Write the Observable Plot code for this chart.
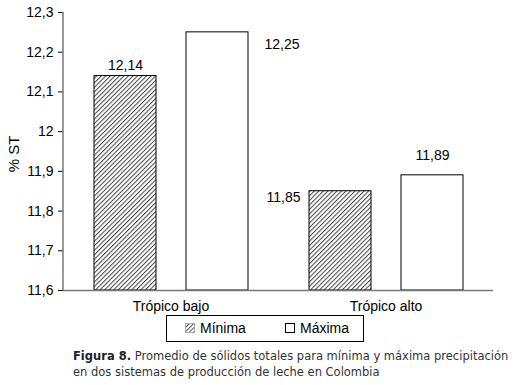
<!DOCTYPE html>
<html>
<head>
<meta charset="utf-8">
<script src="https://cdn.jsdelivr.net/npm/d3@7"></script>
<script src="https://cdn.jsdelivr.net/npm/@observablehq/plot@0.6"></script>
<style>
  html, body { margin: 0; padding: 0; background: #fff; }
  #wrap { position: relative; width: 517px; height: 385px; }
  #legend { position: absolute; left: 166px; top: 315px; width: 196px; height: 25px;
    border: 1px solid #000; font: 14px "Liberation Sans", Arial, sans-serif; color: #000; }
  #legend .item { position: absolute; top: 4px; display: flex; align-items: center; line-height: 16px; }
  #legend svg { margin-right: 5px; }
  #caption { position: absolute; left: 73px; top: 348px; white-space: nowrap;
    font: 11.5px "DejaVu Sans", Verdana, sans-serif; color: #333; line-height: 16px; }
  #caption b { color: #222; }
</style>
</head>
<body>
<div id="wrap">
  <div id="chart"></div>
  <div id="legend"></div>
  <div id="caption"><b>Figura 8.</b> Promedio de sólidos totales para mínima y máxima precipitación<br>en dos sistemas de producción de leche en Colombia</div>
</div>
<script>
const groups = ["Trópico bajo", "Trópico alto"];
const series = ["Mínima", "Máxima"];
const minima = [12.14, 11.85];
const maxima = [12.25, 11.89];
const yTicks = [11.6, 11.7, 11.8, 11.9, 12.0, 12.1, 12.2, 12.3];

const data = [];
groups.forEach((g, i) => {
  data.push({group: g, series: series[0], value: minima[i]});
  data.push({group: g, series: series[1], value: maxima[i]});
});

const fmt = d => String(+(+d).toFixed(2)).replace(".", ",");
const yMin = yTicks[0], yMax = yTicks[yTicks.length - 1];
const pick = (g, s) => d => d.group === g && d.series === s;

const plot = Plot.plot({
  width: 517,
  height: 314,
  marginLeft: 63,
  marginRight: 24,
  marginTop: 12,
  marginBottom: 24,
  style: {fontFamily: "'Liberation Sans', Arial, sans-serif", fontSize: "14px", color: "#000", background: "#fff"},
  fx: {domain: groups, padding: 0, axis: "bottom", label: null, tickSize: 0, tickPadding: 11},
  x: {domain: series, padding: 0.33, axis: null},
  y: {domain: [yMin, yMax], ticks: yTicks, tickFormat: fmt, tickSize: 5, tickPadding: 5, label: null, line: false},
  marks: [
    Plot.barY(data.filter(d => d.series === series[0]), {fx: "group", x: "series", y1: yMin, y2: "value", fill: "url(#hatch)", stroke: "#000", strokeWidth: 1}),
    Plot.barY(data.filter(d => d.series === series[1]), {fx: "group", x: "series", y1: yMin, y2: "value", fill: "#fff", stroke: "#000", strokeWidth: 1}),
    Plot.ruleY([yMin], {stroke: "#777", strokeWidth: 1.5}),
    Plot.text(data.filter(pick(groups[0], series[0])), {fx: "group", x: "series", y: "value", text: d => fmt(d.value), dy: -11, fontSize: 14}),
    Plot.text(data.filter(pick(groups[0], series[1])), {fx: "group", x: "series", y: "value", text: d => fmt(d.value), textAnchor: "start", dx: 47, dy: 12, fontSize: 14}),
    Plot.text(data.filter(pick(groups[1], series[0])), {fx: "group", x: "series", y: "value", text: d => fmt(d.value), textAnchor: "end", dx: -40, dy: 6, fontSize: 14}),
    Plot.text(data.filter(pick(groups[1], series[1])), {fx: "group", x: "series", y: "value", text: d => fmt(d.value), dy: -20, fontSize: 14})
  ]
});

// hatch pattern
const ns = "http://www.w3.org/2000/svg";
function addHatch(svg) {
  const defs = document.createElementNS(ns, "defs");
  defs.innerHTML = '<pattern id="hatch" patternUnits="userSpaceOnUse" width="3.2" height="3.2" patternTransform="rotate(45)">' +
    '<rect width="3.2" height="3.2" fill="#fff"/><line x1="0.5" y1="0" x2="0.5" y2="3.2" stroke="#444" stroke-width="1"/></pattern>';
  svg.insertBefore(defs, svg.firstChild);
}
addHatch(plot);

// y axis line and label
const yAxisLine = document.createElementNS(ns, "line");
yAxisLine.setAttribute("x1", 63); yAxisLine.setAttribute("x2", 63);
yAxisLine.setAttribute("y1", 12); yAxisLine.setAttribute("y2", 290);
yAxisLine.setAttribute("stroke", "#777"); yAxisLine.setAttribute("stroke-width", 1.5);
plot.appendChild(yAxisLine);
const yl = document.createElementNS(ns, "text");
yl.setAttribute("transform", "translate(19,154) rotate(-90)");
yl.setAttribute("text-anchor", "middle");
yl.setAttribute("font-size", "15");
yl.textContent = "% ST";
plot.appendChild(yl);

document.getElementById("chart").appendChild(plot);

// legend
const legend = document.getElementById("legend");
const lx = [18, 118];
series.forEach((s, i) => {
  const item = document.createElement("div");
  item.className = "item";
  item.style.left = lx[i] + "px";
  const sw = document.createElementNS(ns, "svg");
  sw.setAttribute("width", 10); sw.setAttribute("height", 10);
  if (i === 0) {
    sw.innerHTML = '<defs><pattern id="hatch2" patternUnits="userSpaceOnUse" width="3" height="3" patternTransform="rotate(45)"><rect width="3" height="3" fill="#fff"/><line x1="0.5" y1="0" x2="0.5" y2="3" stroke="#555" stroke-width="1"/></pattern></defs><rect x="0.5" y="0.5" width="9" height="9" fill="url(#hatch2)" stroke="#aaa"/>';
  } else {
    sw.innerHTML = '<rect x="0.5" y="0.5" width="9" height="9" fill="#fff" stroke="#000"/>';
  }
  item.appendChild(sw);
  const t = document.createElement("span");
  t.textContent = s;
  item.appendChild(t);
  legend.appendChild(item);
});
</script>
</body>
</html>
